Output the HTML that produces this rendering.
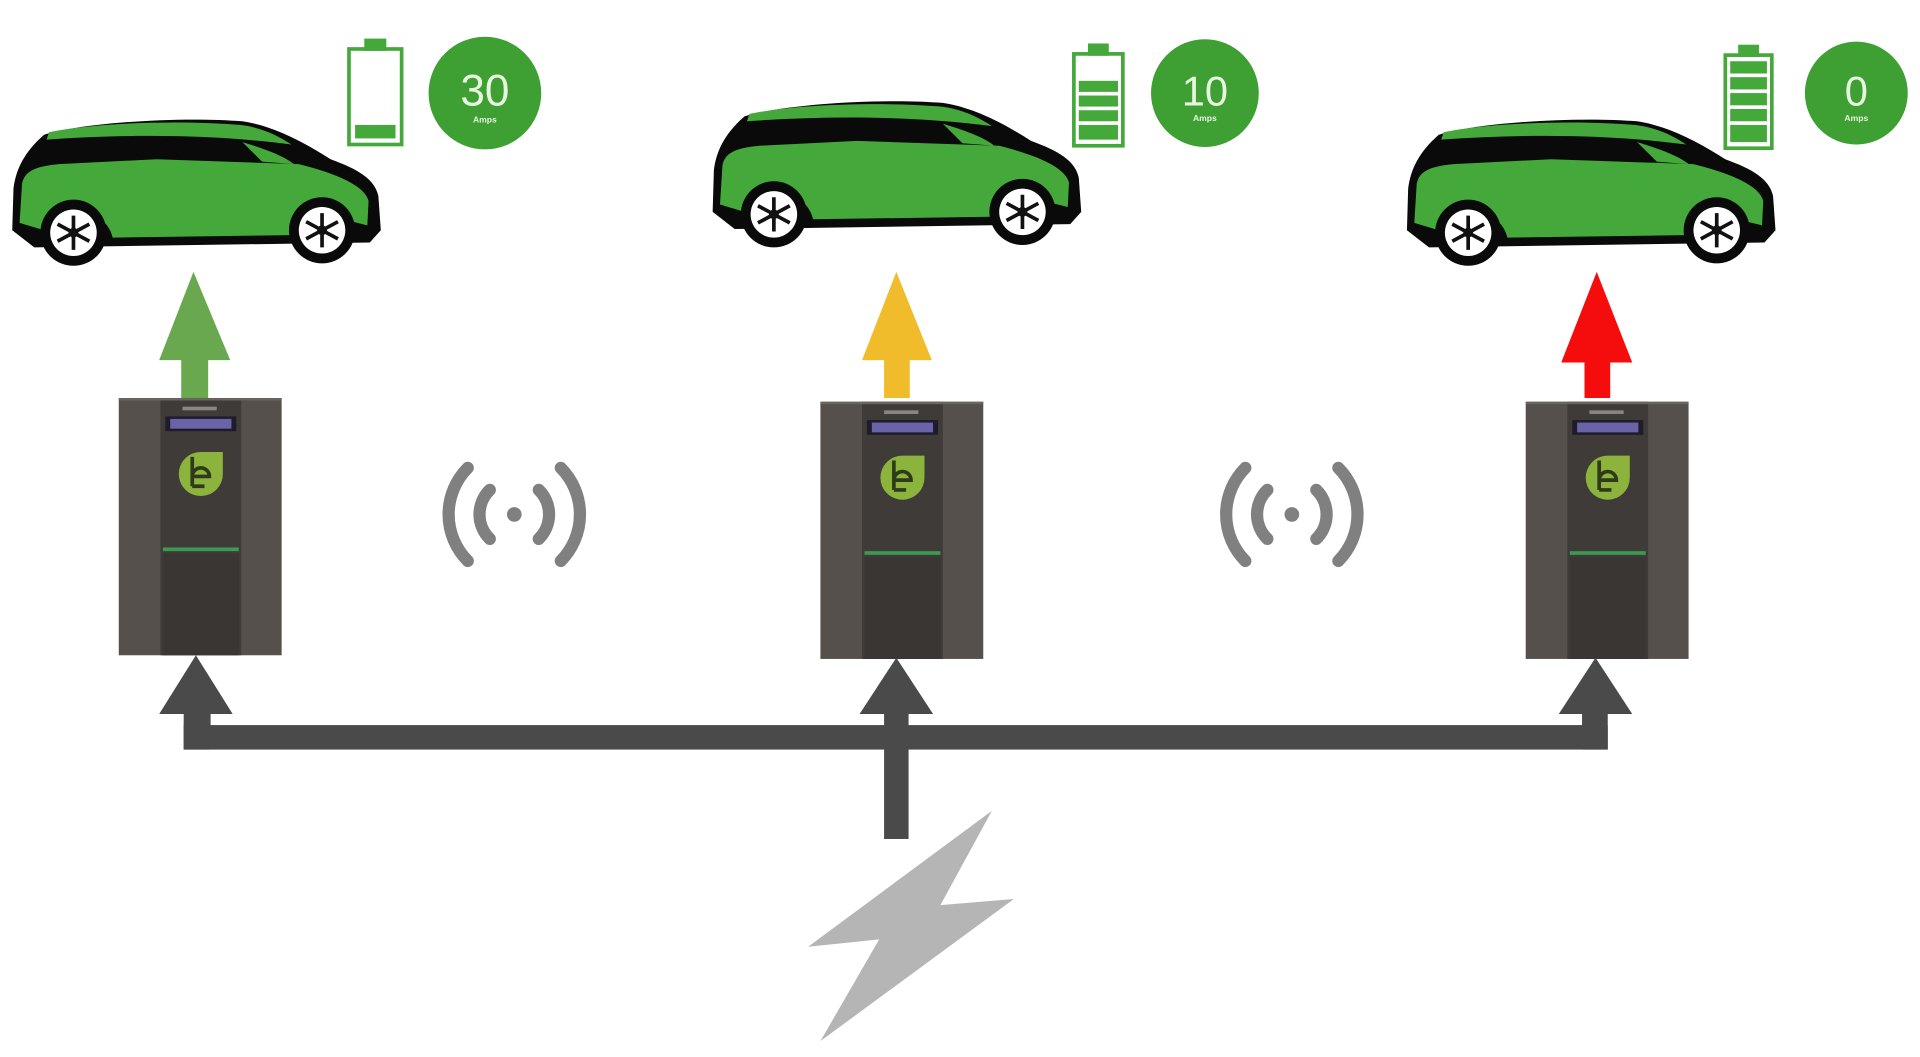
<!DOCTYPE html>
<html><head><meta charset="utf-8"><style>
html,body{margin:0;padding:0;background:#fff;width:1920px;height:1057px;overflow:hidden}
svg{display:block}
</style></head><body>
<svg width="1920" height="1057" viewBox="0 0 1568 863" preserveAspectRatio="none" xmlns="http://www.w3.org/2000/svg">
<defs>
<g id="car">
  <path d="M2,92 L3,58 C5,42 12,28 28,14 C60,4 140,-1 190,3 C216,7 240,20 262,34 C284,42 298,50 301,64 L303,92 L294,102 L20,106 Z" fill="#0a0a0a"/>
  <path d="M8,86 L10,54 C12,44 20,40 40,38 L120,34 L236,38 C268,46 290,56 293,68 L292,88 L276,84 C268,70 236,66 230,96 L84,98 C78,72 40,70 28,92 Z" fill="#44a83a"/>
  <path d="M32,12 C70,4 140,2 188,6 C205,8 218,14 230,22 C170,14 100,13 30,18 Z" fill="#44a83a"/>
  <path d="M190,20 C210,26 225,32 232,38 L206,36 Z" fill="#44a83a"/>
  <g><circle cx="52" cy="94" r="27" fill="#0a0a0a"/><circle cx="52" cy="94" r="19" fill="#fff"/>
  <path d="M52,80 L52,108 M39,87 L65,101 M39,101 L65,87" stroke="#111" stroke-width="3"/><circle cx="52" cy="94" r="4" fill="#111"/></g>
  <g><circle cx="255" cy="92" r="27" fill="#0a0a0a"/><circle cx="255" cy="92" r="19" fill="#fff"/>
  <path d="M255,78 L255,106 M242,85 L268,99 M242,99 L268,85" stroke="#111" stroke-width="3"/><circle cx="255" cy="92" r="4" fill="#111"/></g>
</g>
<g id="charger">
  <rect x="0" y="0" width="133" height="210" fill="#55504b"/>
  <rect x="34" y="0" width="66" height="210" fill="#3f3b38"/>
  <rect x="0" y="0" width="133" height="2" fill="#6a655f"/>
  <rect x="38" y="15" width="58" height="12" fill="#1e1c2a"/>
  <rect x="42" y="17" width="50" height="8" fill="#6b63a8"/>
  <rect x="52" y="7" width="28" height="3" fill="#8a8580"/>
  <path d="M49,62 A18,18 0 1,0 85,62 L85,44 L67,44 A18,18 0 0,0 49,62 Z" fill="#8cb33c"/>
  <path d="M60,48 L60,72 M60,64 A7,7 0 1,1 74,64 L60,64 M60,72 L70,72" stroke="#2e3a1a" stroke-width="3" fill="none"/>
  <rect x="36" y="122" width="62" height="3" fill="#3d9a52"/>
  <rect x="36" y="127" width="62" height="83" fill="#3a3633"/>
</g>
<g id="wifi" fill="none" stroke="#808080" stroke-width="10" stroke-linecap="round">
  <circle cx="0" cy="0" r="6" fill="#808080" stroke="none"/>
  <path d="M-20,-20 A28,28 0 0,0 -20,20 M20,-20 A28,28 0 0,1 20,20"/>
  <path d="M-38,-38 A54,54 0 0,0 -38,38 M38,-38 A54,54 0 0,1 38,38"/>
</g>
</defs>

<use href="#car" transform="translate(8,96)"/>
<use href="#car" transform="translate(580,81)"/>
<use href="#car" transform="translate(1147,96)"/>

<g fill="none" stroke="#44a83a" stroke-width="3">
  <rect x="285" y="40" width="43" height="78"/><rect x="299" y="33" width="15" height="7" fill="#44a83a"/>
  <rect x="877" y="44" width="40" height="75"/><rect x="890" y="37" width="14" height="7" fill="#44a83a"/>
  <rect x="1409" y="45" width="38" height="76"/><rect x="1421" y="38" width="14" height="7" fill="#44a83a"/>
</g>
<rect x="290" y="102" width="33" height="11" fill="#44a83a"/>
<g fill="#44a83a">
  <rect x="881" y="66" width="32" height="9"/><rect x="881" y="78" width="32" height="9"/><rect x="881" y="90" width="32" height="9"/><rect x="881" y="102" width="32" height="12"/>
  <rect x="1413" y="50" width="30" height="10"/><rect x="1413" y="63" width="30" height="10"/><rect x="1413" y="76" width="30" height="10"/><rect x="1413" y="89" width="30" height="10"/><rect x="1413" y="102" width="30" height="14"/>
</g>
<circle cx="396" cy="76" r="46" fill="#3e9f32"/>
<circle cx="984" cy="76" r="44" fill="#3e9f32"/>
<circle cx="1516" cy="76" r="42" fill="#3e9f32"/>
<g fill="#e8f5e0" font-family="Liberation Sans, sans-serif" text-anchor="middle">
  <text x="396" y="86" font-size="36">30</text><text x="396" y="100" font-size="7" font-weight="bold">Amps</text>
  <text x="984" y="86" font-size="34">10</text><text x="984" y="99" font-size="7" font-weight="bold">Amps</text>
  <text x="1516" y="86" font-size="34">0</text><text x="1516" y="99" font-size="7" font-weight="bold">Amps</text>
</g>

<path d="M158,222 L188,294 L170,294 L170,325 L148,325 L148,294 L130,294 Z" fill="#69a84f"/>
<path d="M732,222 L761,294 L743,294 L743,325 L722,325 L722,294 L704,294 Z" fill="#f1bc2c"/>
<path d="M1304,222 L1333,296 L1315,296 L1315,325 L1294,325 L1294,296 L1275,296 Z" fill="#f50d0d"/>

<use href="#charger" transform="translate(97,325)"/>
<use href="#charger" transform="translate(670,328)"/>
<use href="#charger" transform="translate(1246,328)"/>

<use href="#wifi" transform="translate(420,420)"/>
<use href="#wifi" transform="translate(1055,420)"/>

<g fill="#4a4a4a">
  <path d="M160,535 L190,583 L130,583 Z"/>
  <path d="M732,537 L762,583 L702,583 Z"/>
  <path d="M1303,537 L1333,583 L1273,583 Z"/>
  <rect x="150" y="580" width="22" height="32"/>
  <rect x="1292" y="580" width="21" height="32"/>
  <rect x="150" y="592" width="1163" height="20"/>
  <rect x="722" y="580" width="20" height="105"/>
</g>

<path d="M810,662 L660,773 L718,767 L670,850 L828,734 L768,739 Z" fill="#b5b5b5"/>
</svg>
</body></html>
